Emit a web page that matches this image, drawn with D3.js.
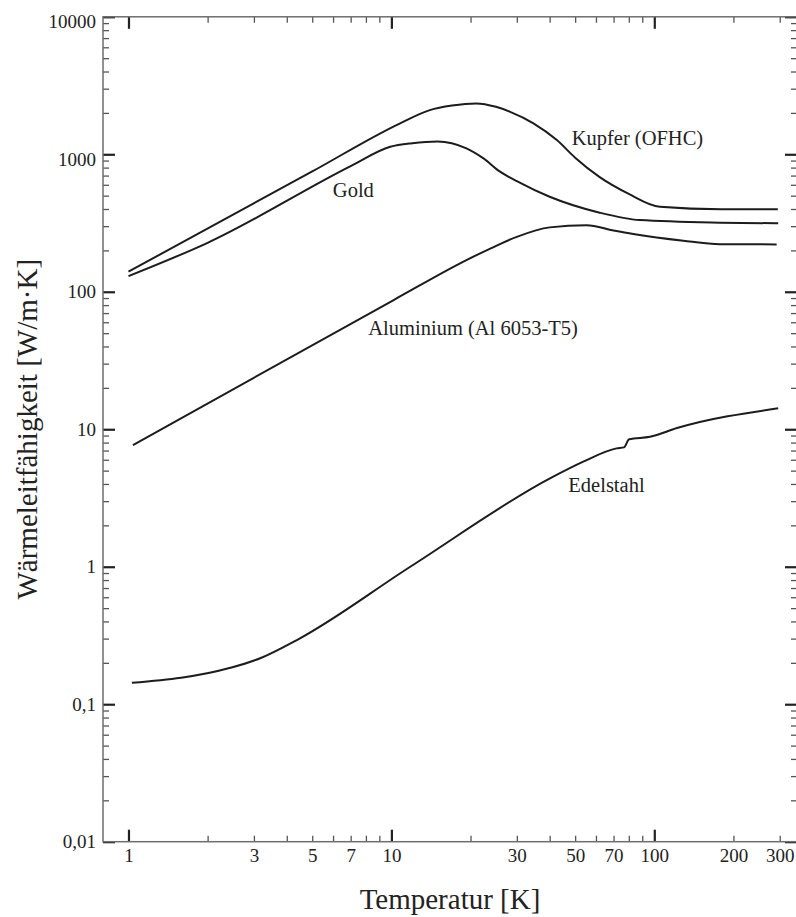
<!DOCTYPE html>
<html>
<head>
<meta charset="utf-8">
<script src="https://cdn.jsdelivr.net/npm/d3@7"></script>
<style>
  body { margin: 0; background: #fff; }
  svg text { font-family: "Liberation Serif", serif; fill: #222; }
</style>
</head>
<body>
<div id="chart"></div>
<script>
// thermal conductivity vs temperature, log-log

// data (T in K, k in W/m·K)
var kupferT = [1, 5, 10.8, 14, 17, 21, 25, 28.3, 34.7, 42.6, 50, 62, 80, 105, 180, 295];
var kupferK = [140, 750, 1680, 2094, 2260, 2344, 2214, 2037, 1680, 1268, 944, 682, 515, 415, 398, 398];

var goldT = [1, 2, 7, 9.9, 12, 15, 19.3, 22.4, 25.9, 30, 40, 62, 88, 178, 296];
var goldK = [130, 227, 820, 1135, 1205, 1240, 1104, 933, 747, 638, 491, 376, 332, 318, 315];

var aluT = [1.04, 10.2, 19.3, 24, 30, 40, 55.3, 70, 83.2, 129, 178, 292];
var aluK = [7.67, 87.1, 170, 208, 251, 294, 305, 279, 263, 235, 222, 221];

var stahlT = [1.03, 2.44, 3.17, 4.37, 11.8, 40.1, 53.7, 71.9, 76.7, 80.2, 96.3, 122, 296];
var stahlK = [0.143, 0.184, 0.216, 0.293, 1.0, 4.39, 5.81, 7.26, 7.38, 8.45, 8.81, 10.2, 14.2];

var seriesNames = ["Kupfer (OFHC)", "Gold", "Aluminium (Al 6053-T5)", "Edelstahl"];

// tick labels
var xTickValues = [1, 3, 5, 7, 10, 30, 50, 70, 100, 200, 300];
var xTickLabels = ["1", "3", "5", "7", "10", "30", "50", "70", "100", "200", "300"];
var yTickValues = [10000, 1000, 100, 10, 1, 0.1, 0.01];
var yTickLabels = ["10000", "1000", "100", "10", "1", "0,1", "0,01"];

var totwidth = 796, totheight = 917;
// plot frame (pixels); note: "top" is reserved on window, so use m.*
var m = {left: 103, right: 797, top: 16.8, bottom: 841.7};

var svg = d3.select("#chart").append("svg")
    .attr("width", totwidth)
    .attr("height", totheight);

var x = d3.scaleLog().domain([0.8, 349]).range([m.left, m.right]);
var y = d3.scaleLog().domain([0.01, 10000]).range([m.bottom, m.top]);

// minor / major tick positions
var xMajor = [1, 10, 100];
var xMinor = [];
[1, 10, 100].forEach(function(dec) {
  for (var i = 2; i <= 9; i++) {
    if (dec * i < 349) xMinor.push(dec * i);
  }
});
var yMajor = [0.01, 0.1, 1, 10, 100, 1000, 10000];
var yMinor = [];
[0.01, 0.1, 1, 10, 100, 1000].forEach(function(dec) {
  for (var i = 2; i <= 9; i++) yMinor.push(dec * i);
});

function styleTicks(g, color, w) {
  g.select(".domain").remove();
  g.selectAll("line").attr("stroke", color).attr("stroke-width", w);
  g.selectAll("text").remove();
}

// minor ticks on all four sides (pointing inwards)
svg.append("g").attr("transform", "translate(0," + m.bottom + ")")
  .call(d3.axisBottom(x).tickValues(xMinor).tickSize(-6))
  .call(styleTicks, "#555", 1.3);
svg.append("g").attr("transform", "translate(0," + m.top + ")")
  .call(d3.axisTop(x).tickValues(xMinor).tickSize(-6))
  .call(styleTicks, "#555", 1.3);
svg.append("g").attr("transform", "translate(" + m.left + ",0)")
  .call(d3.axisLeft(y).tickValues(yMinor).tickSize(-6))
  .call(styleTicks, "#555", 1.3);
svg.append("g").attr("transform", "translate(" + m.right + ",0)")
  .call(d3.axisRight(y).tickValues(yMinor).tickSize(-6))
  .call(styleTicks, "#555", 1.3);

// major ticks
svg.append("g").attr("transform", "translate(0," + m.bottom + ")")
  .call(d3.axisBottom(x).tickValues(xMajor).tickSize(-12))
  .call(styleTicks, "#222", 2.2);
svg.append("g").attr("transform", "translate(0," + m.top + ")")
  .call(d3.axisTop(x).tickValues(xMajor).tickSize(-12))
  .call(styleTicks, "#222", 2.2);
svg.append("g").attr("transform", "translate(" + m.left + ",0)")
  .call(d3.axisLeft(y).tickValues(yMajor).tickSize(-12))
  .call(styleTicks, "#222", 2.2);
svg.append("g").attr("transform", "translate(" + m.right + ",0)")
  .call(d3.axisRight(y).tickValues(yMajor).tickSize(-12))
  .call(styleTicks, "#222", 2.2);

// frame
svg.append("rect")
  .attr("x", m.left).attr("y", m.top)
  .attr("width", m.right - m.left).attr("height", m.bottom - m.top)
  .attr("fill", "none").attr("stroke", "#6e6e6e").attr("stroke-width", 1.5);

// tick labels
var xl = svg.append("g").attr("transform", "translate(0," + m.bottom + ")")
  .call(d3.axisBottom(x).tickValues(xTickValues).tickSize(0).tickPadding(6.5)
    .tickFormat(function(d, i) { return xTickLabels[i]; }));
xl.select(".domain").remove();
xl.selectAll("text").style("font-size", "19px")
  .style("font-family", '"Liberation Serif", serif').attr("fill", "#222");

var yl = svg.append("g").attr("transform", "translate(" + m.left + ",0)")
  .call(d3.axisLeft(y).tickValues(yTickValues).tickSize(0).tickPadding(7)
    .tickFormat(function(d, i) { return yTickLabels[i]; }));
yl.select(".domain").remove();
yl.selectAll("text").style("font-size", "19px")
  .style("font-family", '"Liberation Serif", serif').attr("fill", "#222")
  .filter(function(d) { return d >= 1000; }).attr("dy", "0.58em");

// curves
var line = d3.line()
  .x(function(d) { return x(d[0]); })
  .y(function(d) { return y(d[1]); })
  .curve(d3.curveMonotoneX);

[[kupferT, kupferK], [goldT, goldK], [aluT, aluK], [stahlT, stahlK]].forEach(function(s) {
  svg.append("path")
    .datum(d3.zip(s[0], s[1]))
    .attr("d", line)
    .attr("fill", "none")
    .attr("stroke", "#1c1c1c")
    .attr("stroke-width", 2);
});

// curve labels (anchored in data coordinates)
var labelPos = [[48.5, 1167], [5.99, 491], [8.17, 48.4], [47.1, 3.51]];
seriesNames.forEach(function(name, i) {
  svg.append("text")
    .attr("x", x(labelPos[i][0]))
    .attr("y", y(labelPos[i][1]))
    .style("font-size", "20.5px")
    .text(name);
});

// axis titles
svg.append("text")
  .attr("x", (m.left + m.right) / 2)
  .attr("y", 909)
  .style("text-anchor", "middle")
  .style("font-size", "29px")
  .text("Temperatur [K]");

svg.append("text")
  .attr("transform", "translate(37," + (m.top + m.bottom) / 2 + ") rotate(-90)")
  .style("text-anchor", "middle")
  .style("font-size", "29px")
  .text("Wärmeleitfähigkeit [W/m·K]");
</script>
</body>
</html>
